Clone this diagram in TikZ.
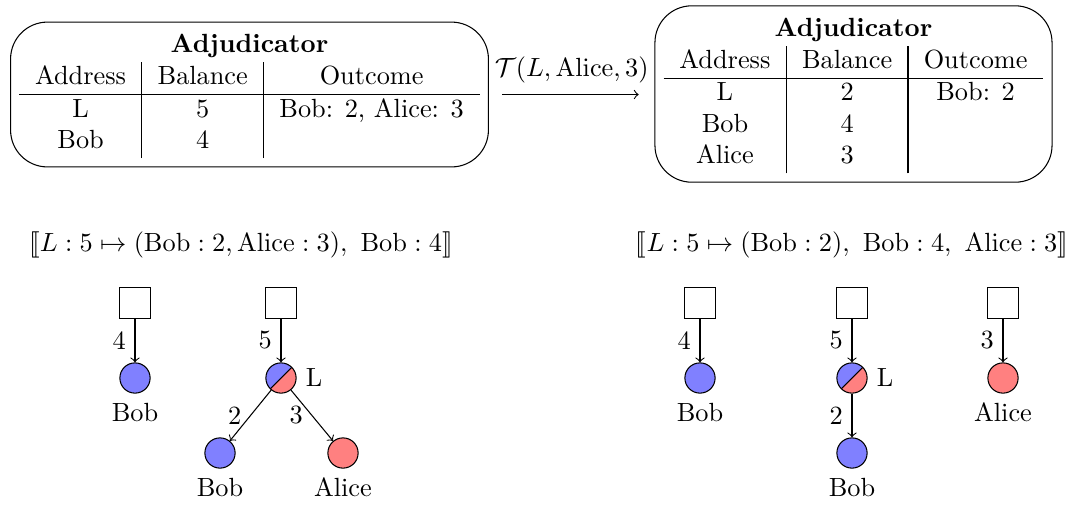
\documentclass[tikz,border=0pt]{standalone}
\usepackage{stmaryrd}
\begin{document}
\begin{tikzpicture}[x=0.3802pt,y=-0.3802pt,
  tablebox/.style={draw, rounded corners=14pt, inner sep=3.33pt},
  acct/.style={draw, minimum size=11.5pt, inner sep=0pt},
  bobnode/.style={circle, draw, minimum size=11.5pt, inner sep=0pt, fill=blue!50},
  alicenode/.style={circle, draw, minimum size=11.5pt, inner sep=0pt, fill=red!50},
  halfnode/.style={circle, draw, minimum size=11.5pt, inner sep=0pt,
    path picture={
      \fill[blue!50] (path picture bounding box.north west) -- (path picture bounding box.north east) -- (path picture bounding box.south west) -- cycle;
      \fill[red!50] (path picture bounding box.north east) -- (path picture bounding box.south east) -- (path picture bounding box.south west) -- cycle;
      \draw (path picture bounding box.south west) -- (path picture bounding box.north east);
    }},
  flow/.style={->},
  elabel/.style={midway, left}
]
\useasboundingbox (0,0) rectangle (1071,504);

% tables
\node[tablebox] (T1) at (249.5,94.5) {\begin{tabular}{c|c|c}
\multicolumn{3}{c}{\textbf{Adjudicator}}\\
Address & Balance & Outcome\\ \hline
L & 5 & Bob: 2, Alice: 3\\
Bob & 4 &
\end{tabular}};
\node[tablebox] (T2) at (853.5,94) {\begin{tabular}{c|c|c}
\multicolumn{3}{c}{\textbf{Adjudicator}}\\
Address & Balance & Outcome\\ \hline
L & 2 & Bob: 2\\
Bob & 4 & \\
Alice & 3 &
\end{tabular}};
\draw[flow, shorten <=5pt, shorten >=6pt] (T1.east) -- (T1.east -| T2.west)
  node[midway, above, yshift=1pt] {$\mathcal{T}(L, \mathrm{Alice}, 3)$};

% formulas
\node (F1) at (241,245) {$\llbracket L : 5 \mapsto (\mathrm{Bob} : 2, \mathrm{Alice} : 3),\ \mathrm{Bob} : 4\rrbracket$};
\node (F2) at (852,245) {$\llbracket L : 5 \mapsto (\mathrm{Bob} : 2),\ \mathrm{Bob} : 4,\ \mathrm{Alice} : 3\rrbracket$};

% left trees
\node[acct] (s1) at (135,303) {};
\node[bobnode, label=below:Bob] (b1) at (135,378) {};
\node[acct] (s2) at (281,303) {};
\node[halfnode, label=right:L] (l1) at (281,378) {};
\node[bobnode, label=below:Bob] (b2) at (220,453) {};
\node[alicenode, label=below:Alice] (a1) at (343,453) {};
\draw[flow] (s1) -- (b1) node[elabel] {4};
\draw[flow] (s2) -- (l1) node[elabel] {5};
\draw[flow] (l1) -- (b2) node[elabel] {2};
\draw[flow] (l1) -- (a1) node[elabel] {3};

% right trees
\node[acct] (s3) at (700,303) {};
\node[bobnode, label=below:Bob] (b3) at (700,378) {};
\node[acct] (s4) at (852,303) {};
\node[halfnode, label=right:L] (l2) at (852,378) {};
\node[bobnode, label=below:Bob] (b4) at (852,453) {};
\node[acct] (s5) at (1003,303) {};
\node[alicenode, label=below:Alice] (a2) at (1003,378) {};
\draw[flow] (s3) -- (b3) node[elabel] {4};
\draw[flow] (s4) -- (l2) node[elabel] {5};
\draw[flow] (l2) -- (b4) node[elabel] {2};
\draw[flow] (s5) -- (a2) node[elabel] {3};
\end{tikzpicture}
\end{document}
